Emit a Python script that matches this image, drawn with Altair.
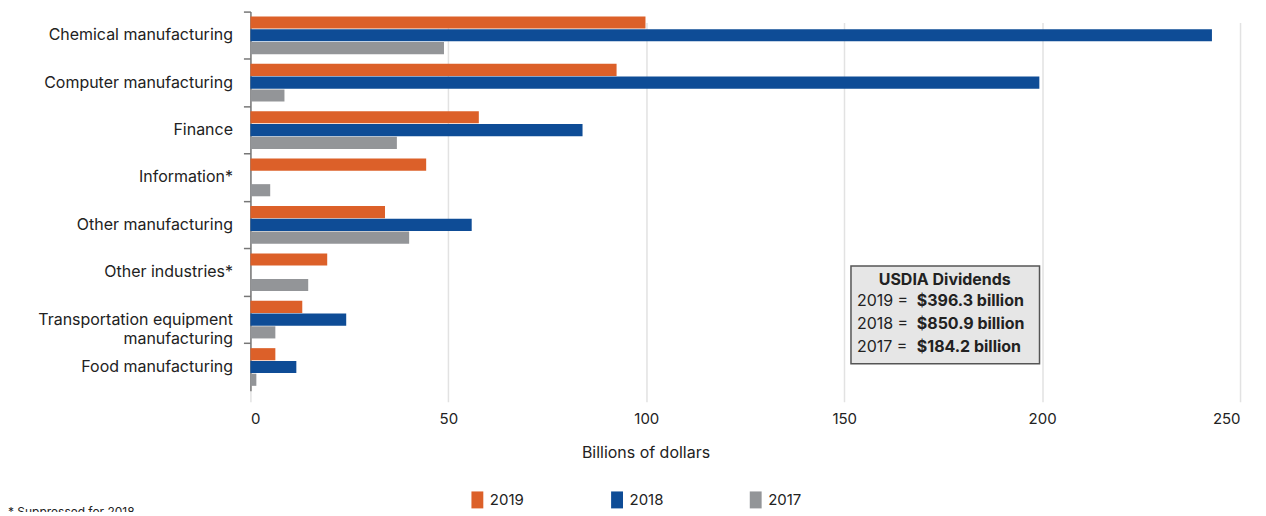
import altair as alt
import pandas as pd

categories = ["Chemical manufacturing", "Computer manufacturing", "Finance", "Information*",
              "Other manufacturing", "Other industries*",
              "Transportation equipment manufacturing", "Food manufacturing"]
years = ["2019", "2018", "2017"]
v2019 = [99.8, 92.5, 57.7, 44.4, 34.0, 19.4, 13.1, 6.3]
v2018 = [242.9, 199.3, 83.9, None, 55.9, None, 24.2, 11.6]
v2017 = [48.9, 8.6, 37.0, 5.0, 40.1, 14.6, 6.3, 1.5]
colors = ["#DC6029", "#0E4C96", "#939598"]

box_title = "USDIA Dividends"
box_years = ["2019 =", "2018 =", "2017 ="]
box_totals = ["$396.3 billion", "$850.9 billion", "$184.2 billion"]
footnote = "* Suppressed for 2018"

rows = []
for yr, vals in zip(years, [v2019, v2018, v2017]):
    for c, v in zip(categories, vals):
        if v is not None:
            rows.append({"Industry": c, "Year": yr, "Value": v})
df = pd.DataFrame(rows)

FONT = "Inter"

bars = alt.Chart(df).mark_bar().encode(
    x=alt.X("Value:Q",
            scale=alt.Scale(domain=[0, 250], nice=False),
            axis=alt.Axis(values=[0, 50, 100, 150, 200, 250], title="Billions of dollars",
                          domain=False, ticks=False, grid=True, gridColor="#E2E2E2",
                          gridWidth=1.5, labelFontSize=15, labelPadding=10,
                          titleFontSize=16, titleFontWeight="normal", titlePadding=18,
                          titleX=396, titleAlign="center",
                          labelColor="#222", titleColor="#222")),
    y=alt.Y("Industry:N", sort=categories,
            scale=alt.Scale(range=[0, 380], paddingInner=0, paddingOuter=0),
            axis=alt.Axis(title=None, bandPosition=0, domainColor="#777", domainWidth=1.5,
                          tickColor="#777", tickWidth=1.5, tickSize=7, labelPadding=11,
                          labelFontSize=16, labelColor="#222", labelLimit=300,
                          labelLineHeight=19,
                          labelExpr="datum.label == 'Transportation equipment manufacturing' ? ['Transportation equipment', 'manufacturing'] : datum.label")),
    yOffset=alt.YOffset("Year:N", sort=years,
                        scale=alt.Scale(paddingInner=0.05, paddingOuter=0.38)),
    color=alt.Color("Year:N", sort=years,
                    scale=alt.Scale(domain=years, range=colors),
                    legend=alt.Legend(title=None, orient="none", direction="horizontal",
                                      legendX=219, legendY=481,
                                      symbolType="M-0.7,-1H0.7V1H-0.7Z", symbolSize=289,
                                      symbolStrokeWidth=0, labelFontSize=15,
                                      labelColor="#222", columnPadding=84, labelOffset=4)),
)

one = pd.DataFrame({"k": [0]})

box = alt.Chart(one).mark_rect(fill="#E6E6E6", stroke="#555", strokeWidth=1.5).encode(
    x=alt.value(602), x2=alt.value(791), y=alt.value(255), y2=alt.value(353))

box_head = alt.Chart(one).mark_text(fontSize=16, fontWeight="bold", align="center",
                                    baseline="middle", color="#222").encode(
    x=alt.value(696), y=alt.value(269), text=alt.value(box_title))

box_left = alt.Chart(one).mark_text(fontSize=16, align="left", baseline="middle",
                                    lineHeight=23, color="#222").encode(
    x=alt.value(608), y=alt.value(290), text=alt.value(box_years))

box_right = alt.Chart(one).mark_text(fontSize=16, fontWeight="bold", align="left",
                                     baseline="middle", lineHeight=23, color="#222").encode(
    x=alt.value(668), y=alt.value(290), text=alt.value(box_totals))

note = alt.Chart(one).mark_text(fontSize=12, align="left", baseline="top",
                                color="#222").encode(
    x=alt.value(-243), y=alt.value(497), text=alt.value(footnote))

chart = alt.layer(bars, box, box_head, box_left, box_right, note).properties(
    width=992, height=391,
    autosize=alt.AutoSizeParams(type="none"),
    padding={"left": 243, "top": 3, "right": 18, "bottom": 110},
).configure(font=FONT).configure_view(stroke=None)

chart.save("out.html", embed_options={"renderer": "svg", "actions": False})
